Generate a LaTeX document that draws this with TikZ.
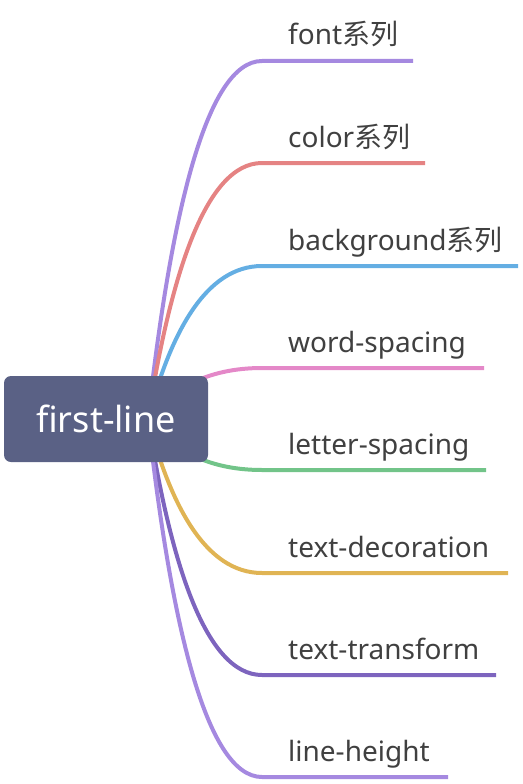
\documentclass[tikz,border=0pt]{standalone}
\usepackage{fontspec}
\setmainfont{Noto Sans}
\newfontfamily\cjk{Noto Sans CJK SC}
\definecolor{cpurple}{RGB}{165,137,224}
\definecolor{cred}{RGB}{229,131,131}
\definecolor{cblue}{RGB}{100,174,227}
\definecolor{cpink}{RGB}{228,136,200}
\definecolor{cgreen}{RGB}{114,196,137}
\definecolor{cyellow}{RGB}{224,180,84}
\definecolor{cdpurple}{RGB}{125,100,190}
\definecolor{rootfill}{RGB}{90,97,133}
\definecolor{txt}{RGB}{64,64,64}
\tikzset{
  branch/.style={line width=4pt},
  lbl/.style={anchor=base west, inner sep=0pt, text=txt, font=\fontsize{28}{32}\selectfont},
  rootbox/.style={fill=rootfill, rounded corners=7pt, minimum width=204pt, minimum height=86pt, inner sep=0pt, text=white, font=\fontsize{36}{40}\selectfont},
}
\begin{document}
\begin{tikzpicture}[x=1pt,y=-1pt]
\useasboundingbox (0,0) rectangle (522,784);
\coordinate (c) at (148,419);
\foreach \n/\y/\xe/\col in {a/61/413/cpurple, b/163/425/cred, cc/266/518/cblue, d/368/484/cpink, e/470/486/cgreen, f/573/508/cyellow, g/675/496/cdpurple, h/777/448/cpurple}{
  \coordinate (s\n) at (262,\y);
  \coordinate (e\n) at (\xe,\y);
  \draw[branch, \col] (c) .. controls ({170}, {\y+(419-\y)*0.45}) and (205,\y) .. (s\n) -- (e\n);
}
\node[rootbox] (root) at (106,419) {first-line};
\node[lbl] (la) at (288,45) {font{\cjk 系列}};
\node[lbl] (lb) at (288,147) {color{\cjk 系列}};
\node[lbl] (lc) at (288,250) {background{\cjk 系列}};
\node[lbl] (ld) at (288,352) {word-spacing};
\node[lbl] (le) at (288,454) {letter-spacing};
\node[lbl] (lf) at (288,557) {text-decoration};
\node[lbl] (lg) at (288,659) {text-transform};
\node[lbl] (lh) at (288,761) {line-height};
\end{tikzpicture}
\end{document}
